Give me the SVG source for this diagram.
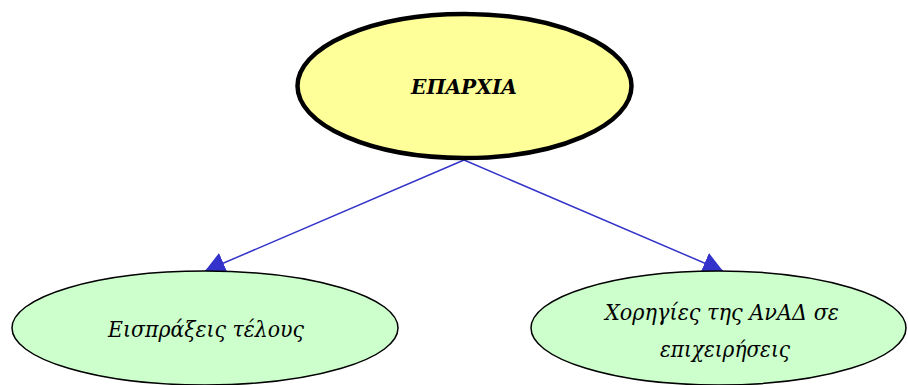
<svg xmlns="http://www.w3.org/2000/svg" width="908" height="385" viewBox="0 0 908 385">
<style>
.lbl{font-family:"DejaVu Serif","Liberation Serif",serif;font-style:italic;fill:#000;text-anchor:middle}
.leaf{fill:#ccffcc;stroke:#000;stroke-width:1.5}
.edge{stroke:#3333cc;stroke-width:1.5;fill:none}
</style>
<defs>
<marker id="arr" markerUnits="userSpaceOnUse" markerWidth="20" markerHeight="22" refX="20" refY="11" orient="auto" viewBox="0 0 20 22">
<path d="M0,0 L20,11 L0,22 z" fill="#3333cc"/>
</marker>
</defs>
<g id="connectors">
<line class="edge" x1="464" y1="160" x2="205" y2="271" marker-end="url(#arr)"/>
<line class="edge" x1="464" y1="160" x2="723" y2="271" marker-end="url(#arr)"/>
</g>
<g id="eparchia">
<ellipse cx="464.5" cy="86" rx="167" ry="72" fill="#ffff99" stroke="#000" stroke-width="4.5"/>
<text class="lbl" x="464" y="94" font-size="20" font-weight="bold" textLength="106" lengthAdjust="spacingAndGlyphs">ΕΠΑΡΧΙΑ</text>
</g>
<g id="eispraxeis">
<ellipse class="leaf" cx="205" cy="328" rx="193" ry="57"/>
<text class="lbl" x="206" y="337" font-size="22" textLength="196" lengthAdjust="spacingAndGlyphs">Εισπράξεις τέλους</text>
</g>
<g id="xorhgies">
<ellipse class="leaf" cx="718.5" cy="328" rx="187.5" ry="57"/>
<text class="lbl" x="722" y="320" font-size="22" textLength="234" lengthAdjust="spacingAndGlyphs">Χορηγίες της ΑνΑΔ σε</text>
<text class="lbl" x="725" y="357" font-size="22" textLength="130" lengthAdjust="spacingAndGlyphs">επιχειρήσεις</text>
</g>
</svg>
